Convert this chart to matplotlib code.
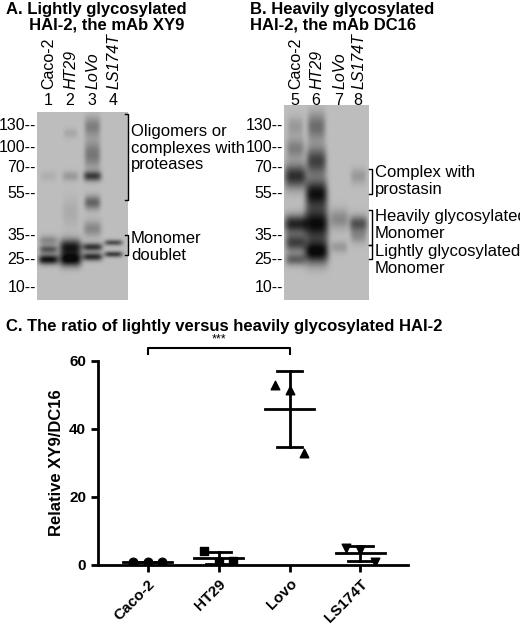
import numpy as np
import matplotlib
matplotlib.use('Agg')
import matplotlib.pyplot as plt

plt.rcParams['font.family'] = ['Liberation Sans', 'DejaVu Sans']

# marker ladder (kDa) and its pixel rows on the blots
markers = [130, 100, 70, 55, 35, 25, 10]
marker_rows = [126, 148, 168, 193, 236, 259, 288]

# blot bands: (lane index, kDa, intensity, half-height px, half-width px)
bands_a = [(0, 25, 0.95, 5, 10), (0, 29, 0.55, 4, 9), (0, 33, 0.3, 5, 9), (0, 65, 0.08, 5, 8),
           (1, 25, 1.0, 7, 11), (1, 30, 0.9, 8, 11), (1, 65, 0.2, 5, 8), (1, 120, 0.12, 5, 7),
           (1, 45, 0.1, 15, 8),
           (2, 26, 0.8, 4, 10), (2, 30, 0.75, 4, 10), (2, 38, 0.3, 8, 9), (2, 50, 0.5, 7, 8),
           (2, 65, 0.7, 5, 9), (2, 90, 0.4, 14, 8), (2, 130, 0.35, 10, 8),
           (3, 27, 0.7, 3, 9), (3, 32, 0.6, 3, 9)]
bands_b = [(0, 25, 0.5, 6, 10), (0, 32, 0.7, 9, 10), (0, 40, 0.85, 9, 11), (0, 65, 0.8, 12, 11),
           (0, 100, 0.35, 10, 9), (0, 130, 0.2, 10, 8),
           (1, 28, 1.0, 12, 12), (1, 40, 1.0, 16, 12), (1, 55, 0.95, 14, 11), (1, 80, 0.7, 14, 10),
           (1, 130, 0.45, 14, 9),
           (2, 30, 0.2, 6, 8), (2, 42, 0.3, 10, 9),
           (3, 40, 0.6, 8, 9), (3, 35, 0.25, 7, 8), (3, 65, 0.2, 8, 8)]
lanes_a = ['Caco-2', 'HT29', 'LoVo', 'LS174T']
lane_nums_a = ['1', '2', '3', '4']
lane_nums_b = ['5', '6', '7', '8']

# panel C data
cells = ['Caco-2', 'HT29', 'Lovo', 'LS174T']
ratios = [[1.0, 1.0, 1.0], [4.2, 1.0, 1.3], [53.0, 51.5, 33.0], [5.0, 4.5, 1.0]]
shapes = ['o', 's', '^', 'v']

fig = plt.figure(figsize=(5.2, 6.24), dpi=100)
ov = fig.add_axes([0, 0, 1, 1])
ov.axis('off')


def kda_row(k):
    return np.interp(np.log(k), np.log(markers[::-1]), marker_rows[::-1])


def draw_blot(x0, x1, y0, y1, lane_x, bands):
    xs = np.arange(x0, x1)
    ys = np.arange(y0, y1)
    X, Y = np.meshgrid(xs, ys)
    dark = np.zeros_like(X, dtype=float)
    for lane, kda, inten, hh, hw in bands:
        cy = kda_row(kda)
        dark += inten * np.exp(-((Y - cy) / hh) ** 2 - ((X - lane_x[lane]) / hw) ** 4)
    img = 0.74 - 0.7 * np.clip(dark, 0, 1)
    ov.imshow(img, cmap='gray', vmin=0, vmax=1, extent=(x0, x1, y1, y0),
              aspect='auto', interpolation='bilinear')


lx_a = [48, 70, 92, 113]
lx_b = [295, 316, 339, 358]
draw_blot(37, 128, 112, 300, lx_a, bands_a)
draw_blot(284, 369, 105, 300, lx_b, bands_b)
ov.set_xlim(0, 520)
ov.set_ylim(624, 0)

for bx, lx, nums in [(37, lx_a, lane_nums_a), (284, lx_b, lane_nums_b)]:
    for m, r in zip(markers, marker_rows):
        ov.text(bx - 1, r, f'{m}--', ha='right', va='center', fontsize=11.5)
    for j, (name, x, n) in enumerate(zip(lanes_a, lx, nums)):
        ov.text(x, 108, n, ha='center', va='bottom', fontsize=11.5)
        ov.text(x + 1, 89, name, ha='center', va='bottom', fontsize=11.5,
                rotation=90, style='normal' if j == 0 else 'italic')

ov.text(6, 2, 'A. Lightly glycosylated\n     HAI-2, the mAb XY9', ha='left', va='top',
        fontsize=12, fontweight='bold', linespacing=1.05)
ov.text(250, 2, 'B. Heavily glycosylated\nHAI-2, the mAb DC16', ha='left', va='top',
        fontsize=12, fontweight='bold', linespacing=1.05)


def bracket(x, ya, yb):
    ov.plot([x - 3, x, x, x - 3], [ya, ya, yb, yb], color='k', lw=1)


bracket(128, 114, 200)
ov.text(131, 148, 'Oligomers or\ncomplexes with\nproteases', va='center', fontsize=12,
        linespacing=1.1)
bracket(128, 235, 255)
ov.text(131, 247, 'Monomer\ndoublet', va='center', fontsize=12, linespacing=1.1)
bracket(372, 169, 194)
ov.text(375, 181, 'Complex with\nprostasin', va='center', fontsize=12, linespacing=1.1)
bracket(372, 210, 245)
bracket(372, 245, 259)
ov.text(375, 225, 'Heavily glycosylated\nMonomer', va='center', fontsize=12, linespacing=1.1)
ov.text(375, 260, 'Lightly glycosylated\nMonomer', va='center', fontsize=12, linespacing=1.1)

ov.text(6, 326, 'C. The ratio of lightly versus heavily glycosylated HAI-2', va='center',
        fontsize=12, fontweight='bold')

# panel C
ax = fig.add_axes([98 / 520, 59 / 624, 310 / 520, 204 / 624])
offsets = [-0.2, 0, 0.2]
for i, (vals, mk) in enumerate(zip(ratios, shapes)):
    vals = np.array(vals)
    ax.scatter(i + np.array(offsets), vals, marker=mk, color='k', s=38, zorder=3)
    m, sd = vals.mean(), vals.std(ddof=1)
    ax.plot([i - 0.35, i + 0.35], [m, m], color='k', lw=2)
    ax.plot([i - 0.18, i + 0.18], [m + sd, m + sd], color='k', lw=2)
    ax.plot([i - 0.18, i + 0.18], [m - sd, m - sd], color='k', lw=2)
    ax.plot([i, i], [m - sd, m + sd], color='k', lw=2)
ax.plot([0, 0, 2, 2], [62, 63.7, 63.7, 62], color='k', lw=1.5, clip_on=False)
ax.text(1, 64.5, '***', ha='center', va='bottom', fontsize=9)
ax.set_xlim(-0.7, 3.67)
ax.set_ylim(0, 60)
ax.set_yticks([0, 20, 40, 60])
ax.set_xticks(range(4))
ax.set_xticklabels(cells, rotation=45, ha='right', rotation_mode='anchor',
                   fontweight='bold', fontsize=11)
for t in ax.get_yticklabels():
    t.set_fontweight('bold')
    t.set_fontsize(11)
ax.set_ylabel('Relative XY9/DC16', fontweight='bold', fontsize=12)
for s in ['top', 'right']:
    ax.spines[s].set_visible(False)
for s in ['left', 'bottom']:
    ax.spines[s].set_linewidth(2)
ax.tick_params(width=2, length=5)

fig.savefig('out.png', dpi=100)
